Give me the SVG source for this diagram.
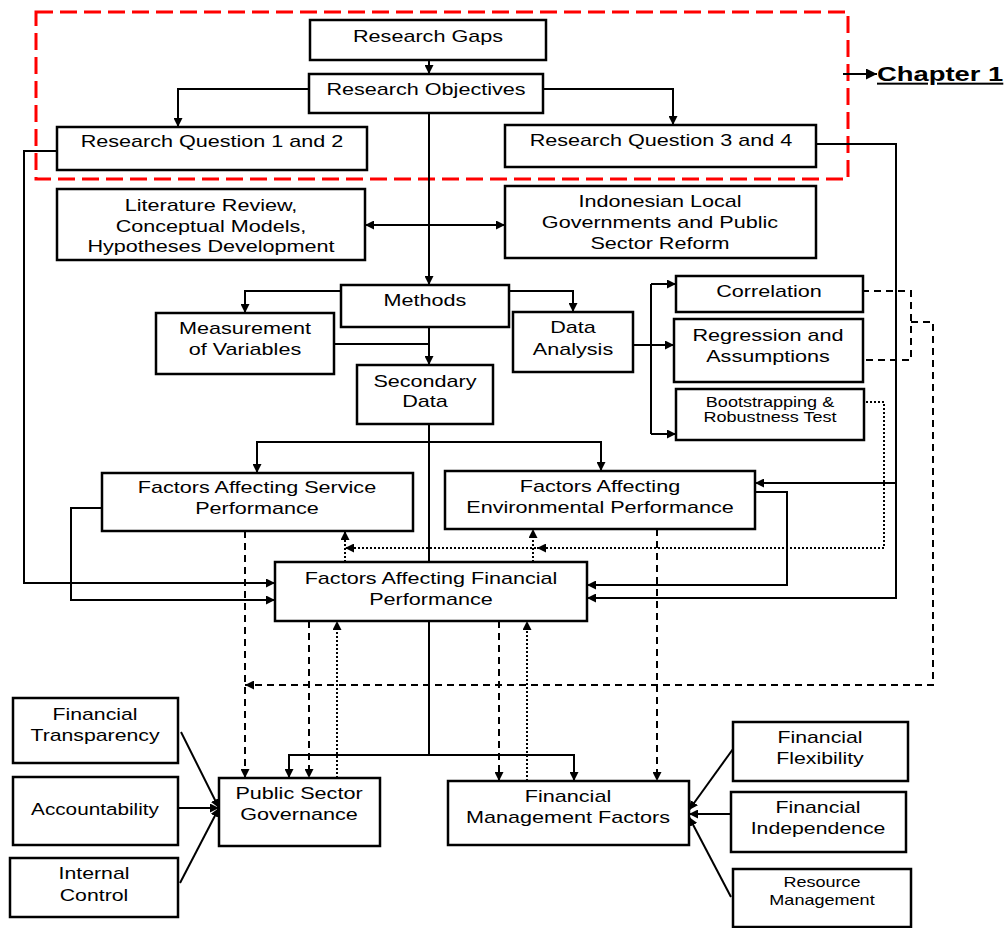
<svg xmlns="http://www.w3.org/2000/svg" width="1005" height="928" viewBox="0 0 1005 928">
<style>
.b{fill:#fff;stroke:#000;stroke-width:2.5}
.t{font-family:"Liberation Sans",Arial,sans-serif;font-size:17px;text-anchor:middle;fill:#000}
.s{font-size:14px}
.c{fill:none;stroke:#000;stroke-width:2}
.d{fill:none;stroke:#000;stroke-width:2;stroke-dasharray:7 5}
.o{fill:none;stroke:#000;stroke-width:2;stroke-dasharray:2 2}
</style>
<defs>
<marker id="a" viewBox="0 0 10 10" refX="10" refY="5" markerWidth="9" markerHeight="9" markerUnits="userSpaceOnUse" orient="auto-start-reverse"><path d="M0,0 L10,5 L0,10 z" fill="#000"/></marker>
<marker id="big" viewBox="0 0 10 10" refX="10" refY="5" markerWidth="14" markerHeight="11" markerUnits="userSpaceOnUse" orient="auto"><path d="M0,0 L10,5 L0,10 z" fill="#000"/></marker>
</defs>

<rect x="36" y="12" width="812" height="167" fill="none" stroke="#f00" stroke-width="3" stroke-dasharray="17 7"/>

<g id="connectors">
<path class="c" d="M429,60 V74" marker-end="url(#a)"/>
<path class="c" d="M309,89 H178 V127" marker-end="url(#a)"/>
<path class="c" d="M543,89 H673 V125" marker-end="url(#a)"/>
<path class="c" d="M429,113 V285" marker-end="url(#a)"/>
<path class="c" d="M365,225 H505" marker-start="url(#a)" marker-end="url(#a)"/>
<path class="c" d="M341,291 H245 V313" marker-end="url(#a)"/>
<path class="c" d="M509,291 H573 V312" marker-end="url(#a)"/>
<path class="c" d="M429,327 V365" marker-end="url(#a)"/>
<path class="c" d="M334,344 H429" stroke-width="3"/>
<path class="c" d="M429,424 V562"/>
<path class="c" d="M429,442 H257 V473" marker-end="url(#a)"/>
<path class="c" d="M429,442 H601 V471" marker-end="url(#a)"/>
<path class="c" d="M57,151 H24 V583 H275" marker-end="url(#a)"/>
<path class="c" d="M102,508 H71 V600 H275" marker-end="url(#a)"/>
<path class="c" d="M755,492 H787 V585 H587" marker-end="url(#a)"/>
<path class="c" d="M816,144 H896 V598 H587" marker-end="url(#a)"/>
<path class="c" d="M896,483 H755" marker-end="url(#a)"/>
<path class="c" d="M633,345 H674" marker-end="url(#a)"/>
<path class="c" d="M651,284 V434"/>
<path class="c" d="M651,284 H676" marker-end="url(#a)"/>
<path class="c" d="M651,434 H676" marker-end="url(#a)"/>
<path class="c" d="M429,621 V755"/>
<path class="c" d="M429,755 H289 V778" marker-end="url(#a)"/>
<path class="c" d="M429,755 H574 V781" marker-end="url(#a)"/>
<path class="c" d="M181,732 L219,808" marker-end="url(#a)"/>
<path class="c" d="M178,808 H219" marker-end="url(#a)"/>
<path class="c" d="M180,883 L219,808" marker-end="url(#a)"/>
<path class="c" d="M733,749 L689,810" marker-end="url(#a)"/>
<path class="c" d="M731,814 H689" marker-end="url(#a)"/>
<path class="c" d="M731,897 L689,817" marker-end="url(#a)"/>
<path class="c" d="M843,74 H877" stroke-width="3" marker-end="url(#big)"/>

<path class="d" d="M245,531 V778" marker-end="url(#a)"/>
<path class="d" d="M309,621 V778" marker-end="url(#a)"/>
<path class="d" d="M499,621 V781" marker-end="url(#a)"/>
<path class="d" d="M657,529 V781" marker-end="url(#a)"/>
<path class="d" d="M862,291 H911 V360 H862" stroke-width="1.6" stroke-dasharray="10 6"/>
<path class="d" d="M911,322 H933 V685 H245" stroke-width="2.2" marker-end="url(#a)"/>

<path class="o" d="M866,402 H884 V548 H345" marker-end="url(#a)"/>
<path class="o" d="M546,548 H537" marker-end="url(#a)"/>
<path class="o" d="M345,562 V531" marker-end="url(#a)"/>
<path class="o" d="M533,562 V529" marker-end="url(#a)"/>
<path class="o" d="M337,778 V621" marker-end="url(#a)"/>
<path class="o" d="M527,781 V621" marker-end="url(#a)"/>
</g>

<g id="chapter1">
<text class="t" transform="matrix(1.37 0 0 1 877 0)" x="0" y="81" style="text-anchor:start;font-weight:bold;font-size:20px;text-decoration:underline">Chapter 1</text>
</g>

<g id="gaps"><rect class="b" x="310" y="20" width="236" height="40"/>
<text class="t" transform="matrix(1.27 0 0 1 428 0)" x="0" y="42">Research Gaps</text></g>

<g id="objectives"><rect class="b" x="309" y="74" width="234" height="39"/>
<text class="t" transform="matrix(1.27 0 0 1 426 0)" x="0" y="95">Research Objectives</text></g>

<g id="rq12"><rect class="b" x="57" y="127" width="310" height="43"/>
<text class="t" transform="matrix(1.27 0 0 1 212 0)" x="0" y="147">Research Question 1 and 2</text></g>

<g id="rq34"><rect class="b" x="505" y="125" width="311" height="42"/>
<text class="t" transform="matrix(1.27 0 0 1 661 0)" x="0" y="146">Research Question 3 and 4</text></g>

<g id="literature"><rect class="b" x="57" y="189" width="308" height="71"/>
<text class="t" transform="matrix(1.27 0 0 1 211 0)" x="0" y="211">Literature Review,</text>
<text class="t" transform="matrix(1.27 0 0 1 211 0)" x="0" y="232">Conceptual Models,</text>
<text class="t" transform="matrix(1.27 0 0 1 211 0)" x="0" y="252">Hypotheses Development</text></g>

<g id="indonesian"><rect class="b" x="505" y="186" width="311" height="72"/>
<text class="t" transform="matrix(1.27 0 0 1 660 0)" x="0" y="207">Indonesian Local</text>
<text class="t" transform="matrix(1.27 0 0 1 660 0)" x="0" y="228">Governments and Public</text>
<text class="t" transform="matrix(1.27 0 0 1 660 0)" x="0" y="249">Sector Reform</text></g>

<g id="methods"><rect class="b" x="341" y="285" width="168" height="42"/>
<text class="t" transform="matrix(1.27 0 0 1 425 0)" x="0" y="306">Methods</text></g>

<g id="measurement"><rect class="b" x="156" y="313" width="178" height="61"/>
<text class="t" transform="matrix(1.27 0 0 1 245 0)" x="0" y="334">Measurement</text>
<text class="t" transform="matrix(1.27 0 0 1 245 0)" x="0" y="355">of Variables</text></g>

<g id="dataanalysis"><rect class="b" x="513" y="312" width="120" height="60"/>
<text class="t" transform="matrix(1.27 0 0 1 573 0)" x="0" y="333">Data</text>
<text class="t" transform="matrix(1.27 0 0 1 573 0)" x="0" y="355">Analysis</text></g>

<g id="secondary"><rect class="b" x="357" y="365" width="136" height="59"/>
<text class="t" transform="matrix(1.27 0 0 1 425 0)" x="0" y="387">Secondary</text>
<text class="t" transform="matrix(1.27 0 0 1 425 0)" x="0" y="407">Data</text></g>

<g id="correlation"><rect class="b" x="676" y="276" width="187" height="36"/>
<text class="t" transform="matrix(1.27 0 0 1 769 0)" x="0" y="297">Correlation</text></g>

<g id="regression"><rect class="b" x="674" y="319" width="189" height="63"/>
<text class="t" transform="matrix(1.27 0 0 1 768 0)" x="0" y="341">Regression and</text>
<text class="t" transform="matrix(1.27 0 0 1 768 0)" x="0" y="362">Assumptions</text></g>

<g id="bootstrapping"><rect class="b" x="676" y="389" width="188" height="51"/>
<text class="t s" transform="matrix(1.29 0 0 1 770 0)" x="0" y="407">Bootstrapping &amp;</text>
<text class="t s" transform="matrix(1.29 0 0 1 770 0)" x="0" y="422">Robustness Test</text></g>

<g id="service"><rect class="b" x="102" y="473" width="311" height="58"/>
<text class="t" transform="matrix(1.27 0 0 1 257 0)" x="0" y="493">Factors Affecting Service</text>
<text class="t" transform="matrix(1.27 0 0 1 257 0)" x="0" y="514">Performance</text></g>

<g id="environmental"><rect class="b" x="445" y="471" width="310" height="58"/>
<text class="t" transform="matrix(1.27 0 0 1 600 0)" x="0" y="492">Factors Affecting</text>
<text class="t" transform="matrix(1.27 0 0 1 600 0)" x="0" y="513">Environmental Performance</text></g>

<g id="financial"><rect class="b" x="275" y="562" width="312" height="59"/>
<text class="t" transform="matrix(1.27 0 0 1 431 0)" x="0" y="584">Factors Affecting Financial</text>
<text class="t" transform="matrix(1.27 0 0 1 431 0)" x="0" y="605">Performance</text></g>

<g id="governance"><rect class="b" x="219" y="778" width="161" height="68"/>
<text class="t" transform="matrix(1.27 0 0 1 299 0)" x="0" y="799">Public Sector</text>
<text class="t" transform="matrix(1.27 0 0 1 299 0)" x="0" y="820">Governance</text></g>

<g id="finmgmt"><rect class="b" x="448" y="781" width="241" height="64"/>
<text class="t" transform="matrix(1.27 0 0 1 568 0)" x="0" y="802">Financial</text>
<text class="t" transform="matrix(1.27 0 0 1 568 0)" x="0" y="823">Management Factors</text></g>

<g id="transparency"><rect class="b" x="13" y="698" width="165" height="65"/>
<text class="t" transform="matrix(1.25 0 0 1 95 0)" x="0" y="720">Financial</text>
<text class="t" transform="matrix(1.25 0 0 1 95 0)" x="0" y="741">Transparency</text></g>

<g id="accountability"><rect class="b" x="13" y="777" width="165" height="68"/>
<text class="t" transform="matrix(1.22 0 0 1 95 0)" x="0" y="815">Accountability</text></g>

<g id="internalcontrol"><rect class="b" x="10" y="858" width="168" height="59"/>
<text class="t" transform="matrix(1.25 0 0 1 94 0)" x="0" y="879">Internal</text>
<text class="t" transform="matrix(1.25 0 0 1 94 0)" x="0" y="901">Control</text></g>

<g id="flexibility"><rect class="b" x="733" y="722" width="175" height="59"/>
<text class="t" transform="matrix(1.25 0 0 1 820 0)" x="0" y="743">Financial</text>
<text class="t" transform="matrix(1.25 0 0 1 820 0)" x="0" y="764">Flexibility</text></g>

<g id="independence"><rect class="b" x="731" y="792" width="175" height="60"/>
<text class="t" transform="matrix(1.25 0 0 1 818 0)" x="0" y="813">Financial</text>
<text class="t" transform="matrix(1.25 0 0 1 818 0)" x="0" y="834">Independence</text></g>

<g id="resource"><rect class="b" x="733" y="869" width="178" height="58"/>
<text class="t s" transform="matrix(1.29 0 0 1 822 0)" x="0" y="887">Resource</text>
<text class="t s" transform="matrix(1.29 0 0 1 822 0)" x="0" y="905">Management</text></g>
</svg>
